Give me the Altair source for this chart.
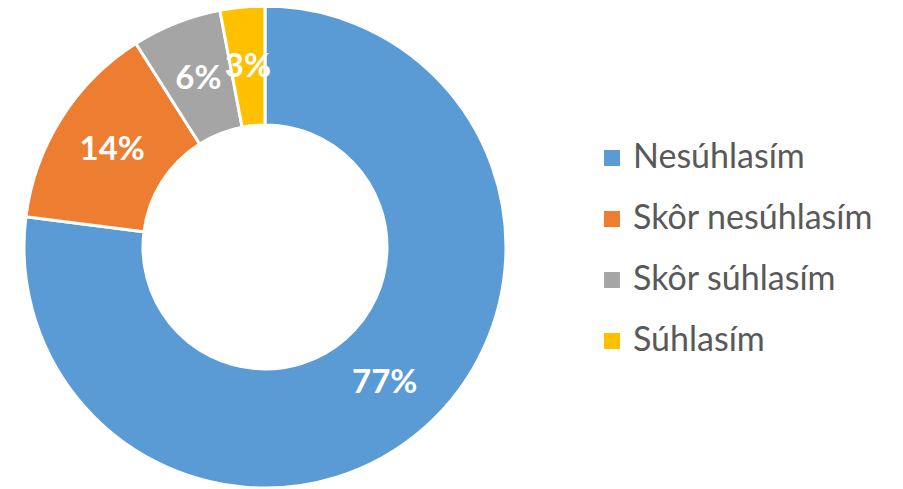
import altair as alt
import pandas as pd

cats = ["Nesúhlasím", "Skôr nesúhlasím", "Skôr súhlasím", "Súhlasím"]
vals = [77, 14, 6, 3]
labels = ["77%", "14%", "6%", "3%"]
colors = ["#5B9BD5", "#ED7D31", "#A5A5A5", "#FFC000"]

df = pd.DataFrame({"cat": cats, "value": vals, "label": labels, "order": list(range(len(cats)))})

theta = alt.Theta("value:Q", stack=True)
order = alt.Order("order:Q")

CX, CY = 257, 239

arc = alt.Chart(df).mark_arc(
    x=CX, y=CY, outerRadius=241, innerRadius=122, stroke="white", strokeWidth=3
).encode(
    theta=theta,
    order=order,
    color=alt.Color(
        "cat:N",
        sort=cats,
        scale=alt.Scale(domain=cats, range=colors),
        legend=alt.Legend(
            title=None,
            orient="none",
            legendX=587,
            legendY=133,
            symbolType="square",
            symbolSize=256,
            symbolStrokeWidth=0,
            labelFontSize=34,
            labelFont="Lato",
            labelColor="#595959",
            labelLimit=400,
            rowPadding=27,
            labelOffset=4,
        ),
    ),
)

text = alt.Chart(df).mark_text(
    x=CX, y=CY, radius=181, fontSize=33, fontWeight="bold", color="white", font="Lato"
).encode(
    theta=theta,
    order=order,
    text="label:N",
)

chart = (arc + text).properties(
    width=887, height=481, padding=0, autosize=alt.AutoSizeParams(type="none")
).configure_view(stroke=None)

chart.save("out.html", embed_options={"renderer": "svg", "actions": False})
